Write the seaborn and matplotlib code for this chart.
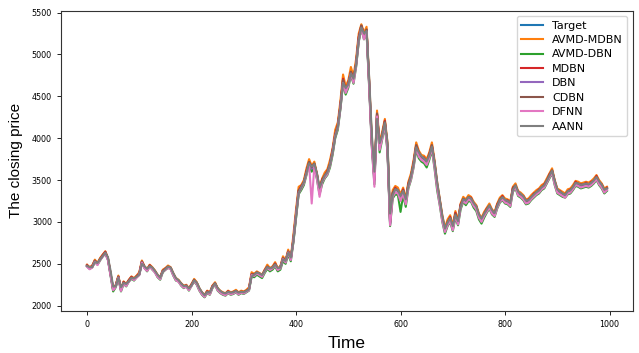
import pandas as pd
import seaborn as sns
import matplotlib.pyplot as plt


# closing price, one value every 5 time steps
time_steps = list(range(0, 1000, 5))

target = [
    2480, 2450, 2470, 2540, 2500, 2560, 2600, 2640, 2560, 2380, 2200, 2240, 2350, 2190, 2280, 2250, 2300, 2340, 2320, 2350,
    2380, 2530, 2460, 2430, 2480, 2450, 2410, 2360, 2330, 2420, 2440, 2470, 2450, 2380, 2320, 2300, 2260, 2230, 2240, 2200,
    2250, 2310, 2270, 2200, 2150, 2120, 2170, 2150, 2230, 2270, 2200, 2170, 2150, 2140, 2170, 2150, 2160, 2180, 2150, 2170,
    2160, 2180, 2200, 2380, 2370, 2400, 2380, 2360, 2420, 2470, 2440, 2460, 2500, 2440, 2460, 2570, 2530, 2650, 2560, 2800,
    3100, 3380, 3420, 3480, 3600, 3720, 3650, 3700, 3560, 3380, 3500, 3560, 3600, 3700, 3850, 4050, 4150, 4400, 4700, 4580,
    4650, 4800, 4700, 4900, 5200, 5350, 5230, 5300, 4650, 3950, 3500, 4300, 3900, 4050, 4200, 3900, 2980, 3350, 3400, 3380,
    3300, 3380, 3250, 3450, 3550, 3700, 3920, 3820, 3780, 3760, 3720, 3800, 3920, 3700, 3450, 3250, 3050, 2900, 3000, 3050,
    2930, 3100, 3000, 3200, 3280, 3250, 3300, 3280, 3220, 3180, 3080, 3030, 3100, 3150, 3200, 3130, 3100, 3200, 3270, 3300,
    3260, 3250, 3220, 3400, 3440, 3350, 3330, 3300, 3250, 3260, 3300, 3330, 3360, 3380, 3420, 3440, 3500, 3560, 3620, 3480,
    3380, 3360, 3340, 3320, 3370, 3380, 3420, 3470, 3460, 3440, 3450, 3460, 3450, 3470, 3500, 3540, 3480, 3440, 3380, 3400,
]

avmd_mdbn = [
    2490, 2460, 2480, 2550, 2510, 2570, 2610, 2650, 2570, 2390, 2180, 2250, 2360, 2200, 2290, 2260, 2310, 2350, 2330, 2360,
    2400, 2540, 2470, 2440, 2490, 2460, 2420, 2370, 2340, 2430, 2450, 2480, 2460, 2390, 2330, 2310, 2270, 2240, 2250, 2210,
    2260, 2320, 2280, 2210, 2160, 2130, 2180, 2160, 2240, 2280, 2210, 2180, 2160, 2150, 2180, 2160, 2170, 2190, 2160, 2180,
    2170, 2190, 2220, 2400, 2380, 2410, 2390, 2370, 2430, 2490, 2450, 2470, 2520, 2450, 2470, 2590, 2540, 2670, 2570, 2850,
    3150, 3420, 3440, 3500, 3640, 3750, 3670, 3720, 3580, 3400, 3520, 3590, 3630, 3740, 3880, 4100, 4190, 4450, 4760, 4620,
    4690, 4850, 4740, 4950, 5250, 5360, 5260, 5330, 4700, 4000, 3560, 4330, 3950, 4080, 4230, 3950, 3050, 3380, 3430, 3410,
    3330, 3410, 3280, 3480, 3580, 3740, 3950, 3850, 3800, 3790, 3750, 3830, 3950, 3740, 3480, 3280, 3080, 2930, 3030, 3080,
    2960, 3130, 3030, 3220, 3300, 3270, 3320, 3300, 3240, 3200, 3100, 3050, 3120, 3170, 3220, 3150, 3120, 3220, 3290, 3320,
    3280, 3270, 3240, 3420, 3460, 3370, 3350, 3320, 3270, 3280, 3320, 3350, 3380, 3400, 3440, 3460, 3520, 3580, 3640, 3500,
    3400, 3380, 3360, 3340, 3390, 3400, 3440, 3490, 3480, 3460, 3470, 3480, 3470, 3490, 3520, 3560, 3500, 3460, 3400, 3420,
]

avmd_dbn = [
    2470, 2440, 2460, 2520, 2490, 2540, 2590, 2620, 2550, 2360, 2170, 2220, 2330, 2170, 2260, 2230, 2290, 2320, 2300, 2340,
    2370, 2510, 2450, 2410, 2470, 2430, 2400, 2340, 2310, 2400, 2430, 2450, 2440, 2360, 2300, 2290, 2240, 2210, 2230, 2180,
    2240, 2290, 2250, 2180, 2130, 2100, 2150, 2130, 2210, 2250, 2180, 2150, 2130, 2120, 2150, 2130, 2140, 2160, 2130, 2150,
    2140, 2160, 2180, 2350, 2340, 2370, 2350, 2330, 2390, 2440, 2410, 2430, 2470, 2410, 2430, 2530, 2500, 2610, 2530, 2760,
    3050, 3330, 3380, 3440, 3560, 3680, 3600, 3660, 3510, 3330, 3450, 3520, 3560, 3650, 3800, 4000, 4100, 4350, 4650, 4520,
    4600, 4750, 4650, 4850, 5150, 5310, 5180, 5260, 4600, 3900, 3450, 4250, 3830, 3990, 4140, 3840, 2950, 3280, 3330, 3320,
    3120, 3320, 3180, 3400, 3500, 3650, 3860, 3760, 3720, 3700, 3650, 3740, 3860, 3640, 3380, 3200, 3000, 2860, 2950, 3000,
    2890, 3050, 2960, 3150, 3240, 3200, 3250, 3240, 3170, 3130, 3030, 2980, 3050, 3110, 3160, 3090, 3060, 3160, 3230, 3260,
    3220, 3210, 3180, 3360, 3400, 3310, 3290, 3260, 3210, 3220, 3260, 3290, 3320, 3340, 3380, 3400, 3460, 3520, 3580, 3440,
    3340, 3320, 3300, 3290, 3330, 3340, 3380, 3430, 3420, 3400, 3410, 3420, 3410, 3430, 3460, 3500, 3440, 3400, 3340, 3370,
]

mdbn = [
    2485, 2455, 2475, 2535, 2505, 2555, 2605, 2645, 2565, 2385, 2205, 2245, 2345, 2195, 2285, 2255, 2305, 2345, 2315, 2355,
    2385, 2525, 2465, 2425, 2485, 2445, 2415, 2355, 2335, 2415, 2445, 2465, 2455, 2375, 2325, 2295, 2265, 2225, 2245, 2195,
    2255, 2305, 2275, 2195, 2155, 2115, 2175, 2145, 2235, 2265, 2205, 2165, 2155, 2135, 2175, 2145, 2165, 2175, 2155, 2165,
    2165, 2175, 2205, 2375, 2375, 2395, 2385, 2355, 2425, 2465, 2445, 2455, 2505, 2435, 2465, 2565, 2535, 2645, 2565, 2790,
    3090, 3370, 3430, 3470, 3610, 3710, 3660, 3690, 3570, 3370, 3510, 3550, 3610, 3690, 3860, 4040, 4160, 4390, 4710, 4570,
    4660, 4790, 4710, 4890, 5210, 5340, 5240, 5290, 4660, 3940, 3510, 4290, 3910, 4040, 4210, 3890, 2990, 3340, 3410, 3370,
    3290, 3390, 3240, 3460, 3540, 3710, 3910, 3830, 3770, 3770, 3710, 3810, 3910, 3710, 3440, 3260, 3040, 2910, 2990, 3060,
    2920, 3110, 2990, 3210, 3270, 3260, 3290, 3290, 3210, 3190, 3070, 3040, 3090, 3160, 3190, 3140, 3090, 3210, 3260, 3310,
    3250, 3260, 3210, 3410, 3430, 3360, 3320, 3310, 3240, 3270, 3290, 3340, 3350, 3390, 3410, 3450, 3490, 3570, 3610, 3490,
    3370, 3370, 3330, 3330, 3360, 3390, 3410, 3480, 3450, 3450, 3440, 3470, 3440, 3480, 3490, 3550, 3470, 3450, 3370, 3410,
]

dbn = [
    2470, 2445, 2462, 2530, 2495, 2552, 2590, 2632, 2552, 2372, 2192, 2232, 2340, 2185, 2272, 2244, 2292, 2332, 2314, 2342,
    2372, 2520, 2452, 2424, 2472, 2442, 2402, 2354, 2324, 2412, 2432, 2462, 2442, 2372, 2314, 2292, 2254, 2224, 2232, 2194,
    2242, 2302, 2264, 2194, 2144, 2114, 2162, 2144, 2222, 2262, 2194, 2164, 2144, 2134, 2162, 2144, 2154, 2172, 2144, 2162,
    2154, 2172, 2192, 2370, 2362, 2392, 2372, 2352, 2412, 2462, 2432, 2452, 2490, 2432, 2452, 2560, 2522, 2640, 2552, 2785,
    3080, 3360, 3405, 3465, 3585, 3705, 3635, 3685, 3545, 3365, 3485, 3545, 3585, 3685, 3835, 4030, 4135, 4380, 4680, 4565,
    4635, 4780, 4685, 4880, 5180, 5330, 5215, 5280, 4635, 3935, 3490, 4280, 3885, 4035, 4185, 3885, 2970, 3335, 3385, 3365,
    3285, 3365, 3235, 3435, 3535, 3685, 3905, 3805, 3765, 3745, 3705, 3785, 3905, 3685, 3435, 3235, 3035, 2890, 2985, 3035,
    2915, 3085, 2985, 3185, 3265, 3235, 3285, 3265, 3205, 3165, 3065, 3015, 3085, 3135, 3185, 3115, 3085, 3185, 3255, 3285,
    3245, 3235, 3205, 3385, 3425, 3335, 3315, 3285, 3235, 3245, 3285, 3315, 3345, 3365, 3405, 3425, 3485, 3545, 3605, 3465,
    3365, 3345, 3325, 3305, 3355, 3365, 3405, 3455, 3445, 3425, 3435, 3445, 3435, 3455, 3485, 3525, 3465, 3425, 3365, 3385,
]

cdbn = [
    2478, 2452, 2468, 2538, 2502, 2558, 2598, 2638, 2562, 2388, 2205, 2238, 2348, 2195, 2278, 2252, 2298, 2338, 2322, 2348,
    2378, 2528, 2462, 2432, 2478, 2452, 2412, 2362, 2332, 2418, 2438, 2468, 2452, 2382, 2322, 2302, 2262, 2232, 2238, 2202,
    2248, 2308, 2272, 2202, 2152, 2122, 2168, 2152, 2228, 2268, 2202, 2172, 2152, 2142, 2168, 2152, 2162, 2178, 2152, 2168,
    2162, 2178, 2198, 2375, 2372, 2398, 2382, 2362, 2418, 2468, 2442, 2458, 2498, 2442, 2458, 2568, 2532, 2648, 2562, 2795,
    3095, 3375, 3418, 3478, 3598, 3718, 3652, 3698, 3562, 3385, 3498, 3558, 3598, 3698, 3848, 4045, 4148, 4395, 4695, 4582,
    4648, 4795, 4702, 4895, 5195, 5345, 5232, 5298, 4655, 3960, 3510, 4295, 3905, 4048, 4198, 3905, 3000, 3348, 3398, 3378,
    3298, 3378, 3252, 3448, 3548, 3698, 3918, 3822, 3778, 3758, 3722, 3798, 3918, 3702, 3452, 3252, 3052, 2905, 2998, 3048,
    2932, 3098, 3002, 3198, 3278, 3252, 3298, 3278, 3222, 3178, 3082, 3032, 3098, 3148, 3198, 3132, 3098, 3198, 3268, 3298,
    3258, 3252, 3218, 3398, 3438, 3352, 3328, 3302, 3252, 3258, 3298, 3328, 3358, 3378, 3418, 3438, 3498, 3558, 3618, 3482,
    3378, 3362, 3338, 3322, 3368, 3378, 3418, 3468, 3458, 3442, 3448, 3458, 3448, 3468, 3498, 3538, 3478, 3442, 3378, 3402,
]

dfnn = [
    2465, 2435, 2455, 2525, 2485, 2545, 2585, 2625, 2545, 2365, 2185, 2225, 2335, 2175, 2265, 2235, 2285, 2325, 2305, 2335,
    2365, 2515, 2445, 2415, 2465, 2435, 2395, 2345, 2315, 2405, 2425, 2455, 2435, 2365, 2305, 2285, 2245, 2215, 2225, 2185,
    2235, 2295, 2255, 2185, 2135, 2105, 2155, 2135, 2215, 2255, 2185, 2155, 2135, 2125, 2155, 2135, 2145, 2165, 2135, 2155,
    2145, 2165, 2185, 2365, 2355, 2385, 2365, 2345, 2405, 2455, 2425, 2445, 2485, 2425, 2445, 2555, 2515, 2635, 2545, 2770,
    3070, 3340, 3400, 3460, 3570, 3690, 3220, 3660, 3520, 3300, 3470, 3530, 3570, 3670, 3820, 4020, 4120, 4360, 4660, 4540,
    4620, 4770, 4660, 4860, 5160, 5310, 5180, 5270, 4620, 3900, 3420, 4260, 3860, 4000, 4160, 3860, 2960, 3300, 3350, 3340,
    3250, 3340, 3210, 3410, 3510, 3660, 3880, 3780, 3740, 3720, 3680, 3760, 3880, 3660, 3410, 3210, 3010, 2880, 2960, 3010,
    2900, 3070, 2970, 3170, 3250, 3220, 3270, 3250, 3190, 3150, 3050, 3000, 3070, 3120, 3170, 3100, 3070, 3170, 3240, 3270,
    3230, 3220, 3190, 3370, 3410, 3320, 3300, 3270, 3220, 3230, 3270, 3300, 3330, 3350, 3390, 3410, 3470, 3530, 3590, 3450,
    3350, 3330, 3310, 3290, 3340, 3350, 3390, 3440, 3430, 3410, 3420, 3430, 3420, 3440, 3470, 3510, 3450, 3410, 3350, 3380,
]

aann = [
    2475, 2460, 2460, 2520, 2510, 2550, 2590, 2630, 2580, 2420, 2230, 2230, 2330, 2220, 2270, 2260, 2290, 2330, 2325, 2345,
    2370, 2500, 2470, 2440, 2470, 2455, 2415, 2370, 2335, 2400, 2435, 2465, 2455, 2390, 2330, 2305, 2265, 2235, 2240, 2205,
    2240, 2300, 2275, 2210, 2160, 2125, 2160, 2155, 2220, 2265, 2210, 2175, 2155, 2145, 2165, 2155, 2160, 2175, 2155, 2165,
    2160, 2175, 2195, 2350, 2370, 2395, 2385, 2365, 2410, 2460, 2445, 2455, 2490, 2450, 2455, 2550, 2535, 2630, 2575, 2760,
    3050, 3340, 3410, 3470, 3580, 3700, 3660, 3690, 3580, 3410, 3480, 3550, 3590, 3680, 3820, 4010, 4130, 4360, 4660, 4600,
    4640, 4770, 4710, 4870, 5160, 5320, 5250, 5280, 4720, 4050, 3600, 4230, 3940, 4030, 4180, 3950, 3100, 3320, 3390, 3380,
    3310, 3370, 3270, 3430, 3540, 3680, 3890, 3830, 3785, 3760, 3725, 3790, 3900, 3720, 3480, 3270, 3070, 2920, 2990, 3045,
    2950, 3080, 3010, 3180, 3270, 3255, 3295, 3280, 3225, 3185, 3090, 3040, 3095, 3145, 3195, 3140, 3105, 3190, 3260, 3295,
    3265, 3250, 3225, 3380, 3435, 3360, 3335, 3305, 3255, 3260, 3295, 3325, 3355, 3375, 3415, 3435, 3490, 3550, 3610, 3495,
    3390, 3362, 3342, 3322, 3365, 3378, 3415, 3465, 3460, 3442, 3450, 3458, 3452, 3468, 3497, 3535, 3485, 3445, 3385, 3400,
]

model_names = ["Target", "AVMD-MDBN", "AVMD-DBN", "MDBN", "DBN", "CDBN", "DFNN", "AANN"]
model_values = [target, avmd_mdbn, avmd_dbn, mdbn, dbn, cdbn, dfnn, aann]


def build_long_df() -> pd.DataFrame:
    frames = []
    for name, vals in zip(model_names, model_values):
        frames.append(pd.DataFrame({"Time": time_steps, "price": vals, "model": name}))
    return pd.concat(frames, ignore_index=True)


df = build_long_df()

fig = plt.figure(figsize=(6.39, 3.53), dpi=100)
ax = fig.add_axes([0.0955, 0.119, 0.895, 0.851])

sns.lineplot(data=df, x="Time", y="price", hue="model", hue_order=model_names,
             palette="tab10", estimator=None, linewidth=1.5, ax=ax)

ax.set_xticks([0, 200, 400, 600, 800, 1000])
ax.set_yticks([2000, 2500, 3000, 3500, 4000, 4500, 5000, 5500])
ax.tick_params(labelsize=5.8, length=3, width=0.6)
for sp in ax.spines.values():
    sp.set_linewidth(0.8)
    sp.set_color("#333333")

ax.set_xlabel("Time", fontsize=12.5, family="Liberation Sans", labelpad=5)
ax.set_ylabel("The closing price", fontsize=11, family="Liberation Sans", labelpad=6)

leg = ax.legend(loc="upper right", fontsize=8.0, title=None, handlelength=2.0,
                labelspacing=0.4)
for line in leg.get_lines():
    line.set_linewidth(1.5)

fig.savefig("out.png", dpi=100)
